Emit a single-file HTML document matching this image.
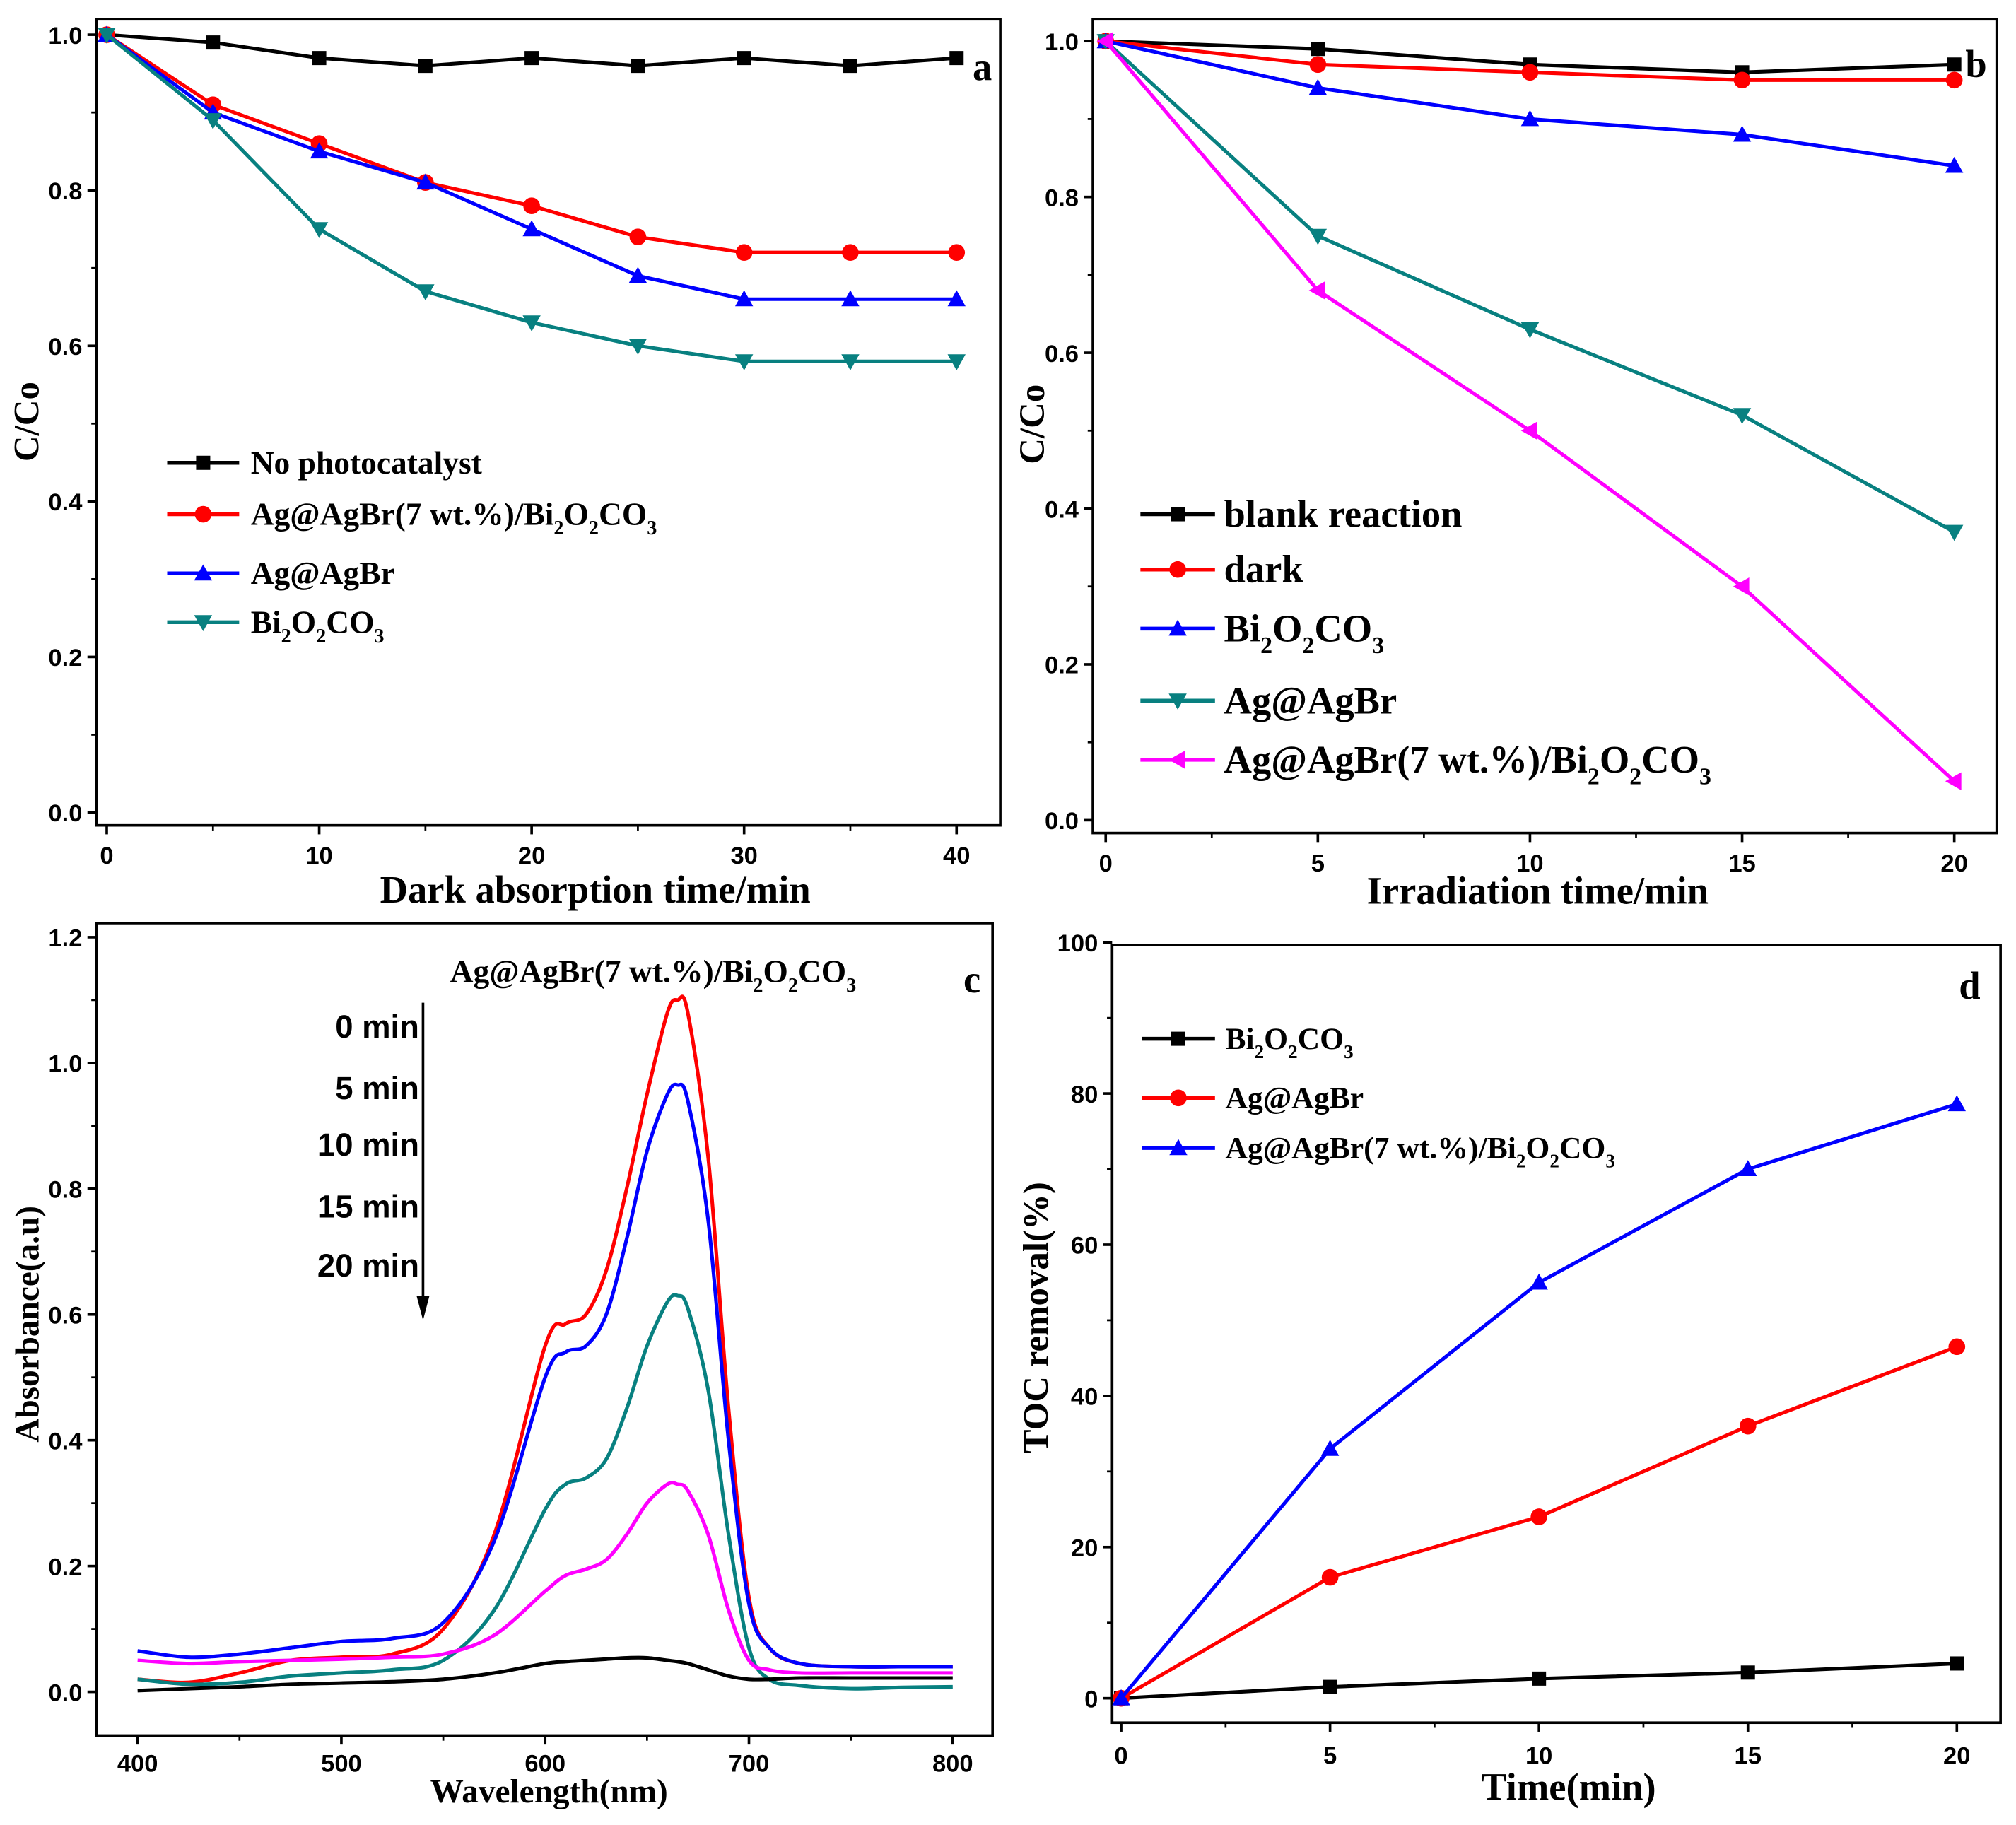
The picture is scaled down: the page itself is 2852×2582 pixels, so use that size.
<!DOCTYPE html>
<html><head><meta charset="utf-8"><style>
html,body{margin:0;padding:0;background:#fff}
svg{display:block}
text{font-family:"Liberation Serif",serif;font-weight:bold}
.tk{font-family:"Liberation Sans",sans-serif;font-weight:bold;font-size:19px}
</style></head><body>
<svg id="fig" xmlns="http://www.w3.org/2000/svg" width="2852" height="2582" viewBox="0 0 1568 1419.6"></svg>
<script>
// ---------- data ----------
const aX=[0,5,10,15,20,25,30,35,40];
const aNoCat=[1,0.99,0.97,0.96,0.97,0.96,0.97,0.96,0.97];
const aComp=[1,0.91,0.86,0.81,0.78,0.74,0.72,0.72,0.72];
const aAgAgBr=[1,0.90,0.85,0.81,0.75,0.69,0.66,0.66,0.66];
const aBi=[1,0.89,0.75,0.67,0.63,0.60,0.58,0.58,0.58];
const bX=[0,5,10,15,20];
const bBlank=[1,0.99,0.97,0.96,0.97];
const bDark=[1,0.97,0.96,0.95,0.95];
const bBi=[1,0.94,0.90,0.88,0.84];
const bAg=[1,0.75,0.63,0.52,0.37];
const bComp=[1,0.68,0.50,0.30,0.05];
const cWl=[400,425,450,475,500,525,550,575,600,610,620,630,640,650,660,665,670,680,690,700,710,725,750,775,800];
const c0=[0.02,0.015,0.03,0.05,0.055,0.06,0.10,0.25,0.55,0.585,0.60,0.67,0.80,0.95,1.08,1.10,1.08,0.85,0.45,0.15,0.07,0.045,0.04,0.04,0.04];
const c5=[0.065,0.055,0.06,0.07,0.08,0.085,0.11,0.24,0.50,0.54,0.55,0.60,0.72,0.86,0.95,0.965,0.94,0.75,0.40,0.14,0.07,0.045,0.04,0.04,0.04];
const c10=[0.02,0.012,0.015,0.025,0.03,0.035,0.05,0.13,0.29,0.33,0.34,0.37,0.45,0.55,0.62,0.63,0.61,0.48,0.25,0.07,0.02,0.01,0.005,0.007,0.008];
const c15=[0.05,0.045,0.048,0.05,0.052,0.055,0.06,0.09,0.16,0.185,0.195,0.21,0.25,0.30,0.33,0.33,0.32,0.25,0.13,0.05,0.035,0.03,0.03,0.03,0.03];
const c20=[0.002,0.005,0.008,0.012,0.014,0.016,0.02,0.03,0.045,0.048,0.05,0.052,0.054,0.054,0.05,0.048,0.045,0.035,0.025,0.02,0.02,0.022,0.022,0.022,0.022];
const dX=[0,5,10,15,20];
const dBi=[0,1.5,2.6,3.4,4.6];
const dAg=[0,16,24,36,46.5];
const dComp=[0,33,55,70,78.6];
const aXT=[0,10,20,30,40], aYT=[0,0.2,0.4,0.6,0.8,1.0];
const bXT=[0,5,10,15,20], bYT=[0,0.2,0.4,0.6,0.8,1.0];
const cXT=[400,500,600,700,800], cYT=[0,0.2,0.4,0.6,0.8,1.0,1.2];
const dXT=[0,5,10,15,20], dYT=[0,20,40,60,80,100];
const timeLabels=["0 min","5 min","10 min","15 min","20 min"];

const svg=document.getElementById('fig');
const NS='http://www.w3.org/2000/svg';
function el(tag,attrs,parent){const e=document.createElementNS(NS,tag);for(const k in attrs)e.setAttribute(k,attrs[k]);(parent||svg).appendChild(e);return e;}
function lin(d0,d1,r0,r1){return v=>r0+(v-d0)*(r1-r0)/(d1-d0);}
function marker(g,shape,x,y,col){
  let m;
  if(shape==='sq') m=el('rect',{x:x-5.5,y:y-5.5,width:11,height:11,fill:col},g);
  else if(shape==='ci') m=el('circle',{cx:x,cy:y,r:6.5,fill:col},g);
  else if(shape==='up') m=el('polygon',{points:`${x},${y-7} ${x-7},${y+5.5} ${x+7},${y+5.5}`,fill:col},g);
  else if(shape==='dn') m=el('polygon',{points:`${x},${y+7} ${x-7},${y-5.5} ${x+7},${y-5.5}`,fill:col},g);
  else m=el('polygon',{points:`${x-7},${y} ${x+5.5},${y-7} ${x+5.5},${y+7}`,fill:col},g);
  
  
}
function smoothPath(p){
  let d=`M${p[0][0]},${p[0][1]}`;
  for(let i=0;i<p.length-1;i++){
    const p0=p[i-1]||p[i],p1=p[i],p2=p[i+1],p3=p[i+2]||p2;
    const c1=[p1[0]+(p2[0]-p0[0])/6,p1[1]+(p2[1]-p0[1])/6];
    const c2=[p2[0]-(p3[0]-p1[0])/6,p2[1]-(p3[1]-p1[1])/6];
    d+=` C${c1[0]},${c1[1]} ${c2[0]},${c2[1]} ${p2[0]},${p2[1]}`;
  }
  return d;
}
function richText(g,x,y,str,size,anchor){
  const t=el('text',{x:x,y:y,'font-size':size,'text-anchor':anchor||'start'},g);
  const parts=str.split(/(_\d)/);
  parts.forEach(p=>{if(!p)return;
    if(p[0]==='_'){const s=el('tspan',{dy:size*0.3,'font-size':size*0.62},t);s.textContent=p[1];const r=el('tspan',{dy:-size*0.3},t);r.textContent='\u200b';}
    else{const s=el('tspan',{},t);s.textContent=p;}
  });
  return t;
}
function panel(cfg){
  const g=el('g',{});
  
  
  const X=lin(cfg.xd[0],cfg.xd[1],cfg.xr[0],cfg.xr[1]);
  const Y=lin(cfg.yd[0],cfg.yd[1],cfg.yr[0],cfg.yr[1]);
  const b=cfg.box;
  const fr=el('rect',{x:b[0],y:b[1],width:b[2]-b[0],height:b[3]-b[1],fill:'none',stroke:'#000','stroke-width':2},g);
  
  
  cfg.xt.forEach((v,i)=>{const x=X(v);el('line',{x1:x,y1:b[3],x2:x,y2:b[3]+7,stroke:'#000','stroke-width':2},g);
    if(i<cfg.xt.length-1){const xm=X((v+cfg.xt[i+1])/2);el('line',{x1:xm,y1:b[3],x2:xm,y2:b[3]+4,stroke:'#000','stroke-width':1.5},g);}
    const t=el('text',{x:x,y:b[3]+cfg.xlo,'text-anchor':'middle',class:'tk'},g);t.textContent=cfg.xf(v);
    });
  cfg.yt.forEach((v,i)=>{const y=Y(v);el('line',{x1:b[0],y1:y,x2:b[0]-7,y2:y,stroke:'#000','stroke-width':2},g);
    if(i<cfg.yt.length-1){const ym=Y((v+cfg.yt[i+1])/2);el('line',{x1:b[0],y1:ym,x2:b[0]-4,y2:ym,stroke:'#000','stroke-width':1.5},g);}
    const t=el('text',{x:b[0]-11,y:y+7,'text-anchor':'end',class:'tk'},g);t.textContent=cfg.yf(v);
    });
  const xt=el('text',{x:cfg.xtitle[1],y:cfg.xtitle[2],'text-anchor':'middle','font-size':cfg.xtitle[3]},g);xt.textContent=cfg.xtitle[0];
  
  const yt=el('text',{x:0,y:0,'text-anchor':'middle','font-size':cfg.ytitle[3],transform:`translate(${cfg.ytitle[1]},${cfg.ytitle[2]}) rotate(-90)`},g);yt.textContent=cfg.ytitle[0];
  
  const lt=el('text',{x:cfg.letter[1],y:cfg.letter[2],'font-size':30,'text-anchor':'middle'},g);lt.textContent=cfg.letter[0];
  
  cfg.series.forEach(s=>{
    const P=s.y.map((v,i)=>[X(s.x[i]),Y(v)]);
    let pl;
    if(cfg.smooth) pl=el('path',{d:smoothPath(P),fill:'none',stroke:s.c,'stroke-width':2.8},g);
    else pl=el('polyline',{points:P.map(p=>p.join(',')).join(' '),fill:'none',stroke:s.c,'stroke-width':2.8,'stroke-linejoin':'round'},g);
    
    if(s.m) s.y.forEach((v,i)=>marker(g,s.m,X(s.x[i]),Y(v),s.c));
  });
  if(cfg.legend){const L=cfg.legend;
    cfg.series.forEach((s,i)=>{const y=L.ys[i];
      const lg=el('g',{},g);
      el('line',{x1:L.x0,y1:y,x2:L.x1,y2:y,stroke:s.c,'stroke-width':3},lg);
      marker(lg,s.m,(L.x0+L.x1)/2,y,s.c);
      richText(lg,L.tx,y+L.size*0.33,s.label,L.size);
    });}
  return g;
}
panel({name:'panel-a',xd:[0,40],xr:[83,744],yd:[0,1],yr:[632,27],box:[75,15,778,642],
  xt:aXT,yt:aYT,xf:v=>String(v),yf:v=>v.toFixed(1),xlo:30,
  xtitle:['Dark absorption time/min',463,702,30],ytitle:['C/Co',30,328,28],letter:['a',764,62],
  series:[{x:aX,y:aNoCat,c:'#000',m:'sq',label:'No photocatalyst'},
          {x:aX,y:aComp,c:'#f00',m:'ci',label:'Ag@AgBr(7 wt.%)/Bi_2O_2CO_3'},
          {x:aX,y:aAgAgBr,c:'#00f',m:'up',label:'Ag@AgBr'},
          {x:aX,y:aBi,c:'#088080',m:'dn',label:'Bi_2O_2CO_3'}],
  legend:{x0:130,x1:186,tx:195,ys:[360,400,446,484],size:25}});
panel({name:'panel-b',xd:[0,20],xr:[860,1520],yd:[0,1],yr:[638,32],box:[850,15,1553,648],
  xt:bXT,yt:bYT,xf:v=>String(v),yf:v=>v.toFixed(1),xlo:30,
  xtitle:['Irradiation time/min',1196,703,30],ytitle:['C/Co',812,330,28],letter:['b',1537,60],
  series:[{x:bX,y:bBlank,c:'#000',m:'sq',label:'blank reaction'},
          {x:bX,y:bDark,c:'#f00',m:'ci',label:'dark'},
          {x:bX,y:bBi,c:'#00f',m:'up',label:'Bi_2O_2CO_3'},
          {x:bX,y:bAg,c:'#088080',m:'dn',label:'Ag@AgBr'},
          {x:bX,y:bComp,c:'#f0f',m:'lt',label:'Ag@AgBr(7 wt.%)/Bi_2O_2CO_3'}],
  legend:{x0:887,x1:945,tx:952,ys:[400,443,489,545,591],size:30}});
panel({name:'panel-c',smooth:true,xd:[400,800],xr:[107,741],yd:[0,1.2],yr:[1316,729],box:[75,718,772,1350],
  xt:cXT,yt:cYT,xf:v=>String(v),yf:v=>v.toFixed(1),xlo:28,
  xtitle:['Wavelength(nm)',427,1402,26],ytitle:['Absorbance(a.u)',30,1030,26],letter:['c',756,772],
  series:[{x:cWl,y:c0,c:'#f00'},{x:cWl,y:c5,c:'#00f'},{x:cWl,y:c10,c:'#088080'},{x:cWl,y:c15,c:'#f0f'},{x:cWl,y:c20,c:'#000'}]});
panel({name:'panel-d',xd:[0,20],xr:[872,1522],yd:[0,100],yr:[1321,733],box:[865,735,1556,1340],
  xt:dXT,yt:dYT,xf:v=>String(v),yf:v=>String(v),xlo:32,
  xtitle:['Time(min)',1220,1400,30],ytitle:['TOC removal(%)',815,1025,28],letter:['d',1532,777],
  series:[{x:dX,y:dBi,c:'#000',m:'sq',label:'Bi_2O_2CO_3'},
          {x:dX,y:dAg,c:'#f00',m:'ci',label:'Ag@AgBr'},
          {x:dX,y:dComp,c:'#00f',m:'up',label:'Ag@AgBr(7 wt.%)/Bi_2O_2CO_3'}],
  legend:{x0:888,x1:945,tx:953,ys:[808,854,893],size:24}});
const ct=richText(svg,350,764,'Ag@AgBr(7 wt.%)/Bi_2O_2CO_3',25);

const ty=[798,846,890,938,984];
timeLabels.forEach((s,i)=>{const t=el('text',{x:326,y:ty[i]+9,'text-anchor':'end','font-size':25,style:'font-family:"Liberation Sans",sans-serif'});t.textContent=s;
  });
const ar=el('line',{x1:329,y1:780,x2:329,y2:1015,stroke:'#000','stroke-width':2});

const ah=el('polygon',{points:'324,1008 334,1008 329,1027',fill:'#000'});

</script>
</body></html>
